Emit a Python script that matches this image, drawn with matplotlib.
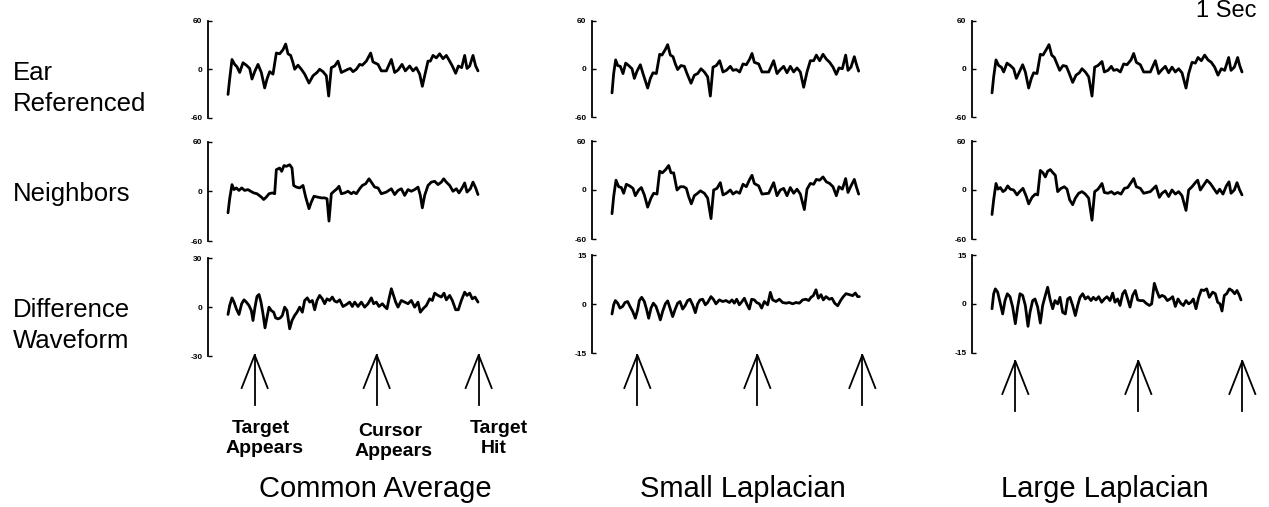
import matplotlib
matplotlib.use('Agg')
import matplotlib.pyplot as plt

plt.rcParams['font.family'] = ['Liberation Sans', 'DejaVu Sans']

W, H = 1269, 507
fig = plt.figure(figsize=(W / 100, H / 100), dpi=100)

# ---------------- data (time in ms, amplitude in microvolts) ----------------
column_titles = ['Common Average', 'Small Laplacian', 'Large Laplacian']
row_labels = [['Ear', 'Referenced'], ['Neighbors'], ['Difference', 'Waveform']]
event_labels = [['Target', 'Appears'], ['Cursor', 'Appears'], ['Target', 'Hit']]

events_ca = [320, 1784, 3008]
events_sl = [304, 1744, 3004]
events_ll = [280, 1756, 3004]

ylim_ear = [60, 60, 60]
ylim_nb = [60, 60, 60]
ylim_diff = [30, 15, 15]

ear_ca = [(0, -31), (20, -12), (48, 12), (80, 6), (108, 3), (140, -4), (180, 8), (220, 5), (260, 1), (288, -12),
          (320, -3), (360, 6), (400, -4), (440, -23), (468, -12), (500, -3), (540, -6), (580, 20), (620, 19), (660, 24),
          (692, 31), (720, 19), (752, 17), (780, 8), (800, 0), (840, 5), (880, 0), (920, -6), (972, -17), (1020, -8),
          (1068, -4), (1100, 0), (1140, -3), (1180, -8), (1208, -33), (1240, 2), (1280, 4), (1320, 10), (1360, -4),
          (1400, -2), (1440, 0), (1468, 1), (1500, -3), (1540, 0), (1580, 6), (1612, 5), (1660, 10), (1712, 20),
          (1740, 9), (1800, 6), (1840, -2), (1900, -2), (1960, 12), (2000, -4), (2040, -1), (2088, 6), (2128, -2),
          (2180, 4), (2220, -2), (2260, 2), (2300, -6), (2332, -21), (2360, -8), (2400, 10), (2428, 10), (2460, 17),
          (2500, 14), (2540, 19), (2580, 13), (2620, 17), (2660, 10), (2692, 4), (2732, -5), (2764, 4), (2804, 2),
          (2840, 17), (2868, 1), (2900, 4), (2940, 17), (2972, 4), (3000, -2)]

ear_sl = [(0, -30), (20, -6), (44, 11), (68, 4), (100, 3), (132, -6), (164, 7), (200, 4), (240, 0), (268, -12),
          (300, -3), (340, 5), (372, -6), (428, -24), (460, -12), (492, -5), (532, -6), (572, 18), (600, 17), (640, 24),
          (668, 30), (700, 17), (732, 15), (760, 6), (788, -1), (828, 4), (868, 3), (900, -6), (948, -18), (988, -8),
          (1028, -6), (1068, 0), (1108, -4), (1148, -10), (1180, -34), (1212, 2), (1252, 4), (1292, 10), (1332, -4),
          (1372, -2), (1420, 3), (1452, -2), (1492, -1), (1532, -4), (1572, 6), (1612, 5), (1652, 12), (1680, 19),
          (1708, 8), (1760, 6), (1800, -4), (1880, -4), (1940, 10), (1980, -6), (2020, -1), (2060, 3), (2100, -5),
          (2140, 3), (2180, -4), (2220, 1), (2260, -4), (2300, -23), (2340, -4), (2380, 10), (2420, 10), (2452, 17),
          (2492, 10), (2532, 18), (2572, 12), (2612, 8), (2652, 2), (2692, -7), (2724, 1), (2764, 0), (2804, 17),
          (2832, -2), (2868, 2), (2908, 15), (2932, 6), (2960, -3)]

ear_ll = [(0, -30), (20, -10), (48, 11), (80, 4), (112, 2), (140, -4), (180, 7), (220, 4), (260, 0), (292, -12),
          (328, -4), (368, 5), (400, -4), (440, -24), (472, -12), (500, -5), (540, -6), (580, 18), (612, 17), (652, 24),
          (684, 30), (716, 17), (748, 14), (780, 6), (812, -2), (852, 4), (892, 3), (920, -4), (968, -17), (1008, -8),
          (1048, -5), (1080, 0), (1120, -4), (1160, -10), (1200, -34), (1232, 2), (1272, 4), (1320, 9), (1348, -4),
          (1392, -2), (1432, 3), (1460, -2), (1500, -1), (1540, -4), (1580, 6), (1620, 5), (1668, 11), (1700, 19),
          (1732, 8), (1780, 5), (1820, -4), (1900, -4), (1960, 10), (2000, -6), (2040, -1), (2080, 3), (2120, -5),
          (2160, 2), (2200, -4), (2240, 0), (2280, -5), (2328, -24), (2360, -6), (2400, 8), (2440, 7), (2472, 14),
          (2512, 10), (2552, 17), (2592, 11), (2632, 8), (2672, 2), (2712, -8), (2752, 0), (2792, -2), (2840, 14),
          (2868, -2), (2908, 2), (2948, 14), (2972, 4), (3000, -4)]

nb_ca = [(0, -26), (20, -9), (48, 8), (72, 2), (100, 4), (132, 1), (164, 4), (200, 1), (240, 2), (272, 0),
         (308, -2), (348, -3), (400, -7), (428, -10), (460, -7), (492, -3), (532, -2), (560, -3), (580, 26), (620, 28),
         (644, 24), (672, 31), (700, 30), (740, 32), (768, 28), (788, 7), (820, 5), (860, 4), (900, 7), (932, -7),
         (972, -21), (1000, -13), (1032, -6), (1072, -7), (1120, -8), (1160, -8), (1188, -9), (1212, -36), (1240, -3),
         (1272, 0), (1308, 3), (1332, 6), (1360, -3), (1400, -2), (1440, 0), (1480, -3), (1508, -1), (1540, -3),
         (1580, 3), (1612, 7), (1652, 9), (1692, 15), (1720, 11), (1760, 5), (1800, 4), (1840, -3), (1900, -1),
         (1960, 3), (2000, -4), (2040, 1), (2080, 3), (2120, -5), (2160, 2), (2200, 0), (2240, 2), (2280, 5),
         (2308, -5), (2332, -20), (2360, -5), (2400, 7), (2440, 11), (2480, 12), (2520, 8), (2560, 11), (2588, 15),
         (2620, 11), (2660, 7), (2700, 0), (2740, 3), (2772, -2), (2804, 3), (2840, 10), (2868, -1), (2908, 3),
         (2940, 11), (2972, 4), (3000, -4)]

nb_sl = [(0, -29), (20, -8), (48, 12), (80, 4), (112, 3), (140, -4), (172, 7), (212, 5), (252, 2), (280, -7),
         (320, 0), (352, 3), (388, -6), (428, -21), (468, -10), (500, -4), (540, -5), (572, 23), (604, 21), (644, 25),
         (680, 30), (708, 21), (740, 21), (780, 0), (820, 4), (860, 4), (892, 2), (920, -8), (952, -17), (988, -7),
         (1028, -4), (1060, -1), (1108, -4), (1148, -10), (1188, -35), (1220, 0), (1260, 2), (1300, 9), (1332, -6),
         (1372, -4), (1420, 0), (1452, -5), (1492, -2), (1532, -4), (1572, 7), (1612, 4), (1652, 13), (1680, 18),
         (1708, 8), (1760, 5), (1800, -5), (1880, -4), (1940, 9), (1980, -7), (2020, 0), (2060, 2), (2100, -7),
         (2140, 3), (2180, -4), (2220, 1), (2260, -5), (2308, -24), (2340, 1), (2380, 8), (2420, 7), (2452, 13),
         (2492, 12), (2532, 16), (2572, 10), (2612, 8), (2652, 4), (2692, -7), (2724, 4), (2764, 1), (2804, 14),
         (2832, -3), (2868, 5), (2908, 13), (2932, 4), (2960, -5)]

nb_ll = [(0, -30), (20, -12), (48, 8), (72, 1), (100, 3), (132, -2), (160, 0), (188, 5), (220, 1), (260, 0),
         (300, -6), (332, -2), (372, 2), (412, -8), (440, -17), (480, -9), (520, -5), (548, -6), (580, 24), (612, 21),
         (640, 16), (668, 23), (700, 25), (732, 21), (760, 18), (788, -2), (828, 2), (868, 4), (900, 1), (932, -12),
         (968, -18), (1000, -10), (1040, -4), (1080, -2), (1120, -5), (1160, -10), (1200, -37), (1232, -2), (1272, 1),
         (1320, 8), (1348, -3), (1392, -4), (1432, -2), (1468, -5), (1508, -3), (1548, -5), (1588, 2), (1628, 3),
         (1668, 9), (1700, 14), (1732, 4), (1780, 2), (1820, -4), (1900, -2), (1968, 5), (2008, -9), (2040, -4),
         (2080, -1), (2120, -8), (2160, 0), (2200, -5), (2240, -2), (2280, -7), (2328, -25), (2360, 0), (2400, 4),
         (2440, 9), (2468, 12), (2500, 0), (2540, 6), (2580, 12), (2620, 8), (2660, 2), (2700, -4), (2732, 1),
         (2772, -5), (2812, 5), (2844, 10), (2868, -4), (2908, 0), (2940, 9), (2972, 0), (3000, -6)]

diff_ca = [(0, -4.5), (20, 1.0), (48, 5.7), (72, 3.1), (100, -1.0), (132, -4.5), (164, 2.1), (192, 4.5), (220, 3.1),
           (252, 1.0), (280, -2.1), (300, -8.2), (324, 0.0), (348, 6.6), (372, 7.8), (396, 3.1), (420, -4.1),
           (444, -12.7), (468, -6.2), (492, 0.0), (520, -2.1), (548, -3.1), (572, -6.6), (600, -7.2), (628, -6.6),
           (652, -5.1), (680, 0.0), (708, -2.1), (740, -13.3), (768, -8.2), (800, -5.1), (828, -3.1), (860, 0.0),
           (892, -3.1), (920, 4.1), (952, 5.7), (980, 3.1), (1012, 4.1), (1040, -1.6), (1068, 4.1), (1100, 7.2),
           (1132, 5.1), (1160, 2.1), (1188, 5.1), (1220, 4.1), (1252, 6.2), (1280, 3.7), (1308, 3.1), (1340, 4.5),
           (1380, 0.4), (1420, 1.6), (1460, 3.1), (1492, 0.4), (1520, 3.1), (1560, 0.4), (1600, 3.1), (1640, 0.0),
           (1680, 2.1), (1720, 5.7), (1748, 2.1), (1780, 3.1), (1812, 0.4), (1852, 2.1), (1880, 0.4), (1908, -1.0),
           (1932, 5.1), (1960, 11.3), (1980, 8.2), (2012, 3.1), (2040, 0.0), (2080, 4.1), (2120, 3.1), (2160, 2.1),
           (2200, 4.1), (2240, 0.0), (2280, 3.1), (2308, -3.1), (2340, -1.0), (2380, 1.0), (2420, 5.1), (2452, 4.1),
           (2480, 8.6), (2520, 7.2), (2560, 6.2), (2592, 8.6), (2620, 4.5), (2660, 7.2), (2692, 4.1), (2732, -1.6),
           (2764, -1.6), (2800, 4.1), (2840, 9.2), (2868, 7.2), (2900, 8.6), (2932, 5.1), (2964, 6.2), (3000, 3.1)]

diff_sl = [(0, -3.0), (20, -0.2), (40, 1.1), (68, 0.3), (96, -1.2), (128, -0.7), (156, 0.5), (188, 0.8), (216, -0.7),
           (248, -2.2), (280, -4.3), (308, -1.7), (328, 1.1), (356, 2.1), (388, 0.8), (416, -1.7), (440, -4.3),
           (468, -1.2), (496, 0.3), (528, -0.7), (556, -2.8), (580, -4.8), (608, -2.2), (640, 0.1), (668, 1.0),
           (696, -1.2), (728, -3.8), (756, -1.7), (788, 0.3), (816, 0.8), (848, -1.5), (876, -0.5), (908, 1.1),
           (936, 1.5), (968, -0.2), (1000, -2.6), (1028, 0.1), (1056, 1.3), (1088, 1.5), (1120, -0.2), (1148, 0.5),
           (1188, 2.3), (1216, 1.5), (1248, 0.1), (1288, 1.3), (1328, 0.8), (1368, 1.1), (1408, 0.5), (1440, 1.3),
           (1468, 0.3), (1496, 1.5), (1528, -0.2), (1560, 0.8), (1588, 1.8), (1616, 0.1), (1648, -1.5), (1676, 1.5),
           (1708, 1.3), (1736, 0.5), (1768, 0.1), (1796, -1.2), (1828, 0.8), (1868, -0.2), (1900, 3.6), (1928, 1.3),
           (1968, 0.8), (2008, 1.5), (2048, 0.5), (2088, 0.3), (2128, 0.5), (2168, 0.1), (2208, 0.5), (2248, 0.3),
           (2288, 1.3), (2328, 1.5), (2360, 1.1), (2388, 2.1), (2416, 2.6), (2448, 4.4), (2476, 1.8), (2508, 2.9),
           (2536, 1.3), (2568, 2.3), (2608, 1.5), (2640, 1.8), (2672, 0.3), (2708, -0.5), (2748, 1.3), (2776, 2.3),
           (2808, 3.2), (2848, 2.9), (2888, 2.6), (2920, 3.4), (2948, 2.3), (2968, 2.3)]

diff_ll = [(0, -1.5), (20, 3.1), (40, 4.6), (68, 3.6), (96, 0.5), (128, -3.1), (156, 1.0), (184, 3.1), (216, 2.2),
           (248, -1.0), (280, -6.1), (308, -1.0), (336, 3.1), (368, 2.6), (400, -0.5), (432, -6.9), (456, -2.6),
           (488, 1.0), (516, 1.5), (548, -1.0), (580, -5.9), (608, -0.5), (640, 2.6), (668, 5.1), (696, 1.5),
           (728, -1.5), (756, 1.0), (788, 0.0), (816, 2.0), (848, -2.6), (880, -3.1), (908, 1.5), (936, 2.0),
           (968, -0.5), (1000, -3.6), (1028, -0.5), (1056, 2.0), (1088, 3.1), (1120, 1.5), (1152, 2.2), (1188, 1.0),
           (1216, 2.0), (1248, 1.2), (1280, 2.2), (1316, 0.5), (1348, 1.5), (1380, 2.2), (1416, 1.0), (1448, 3.3),
           (1476, 0.5), (1508, 1.5), (1536, -0.5), (1568, 3.1), (1596, 4.1), (1628, 1.5), (1656, -1.0), (1688, 2.6),
           (1720, 4.1), (1748, 1.2), (1780, 1.0), (1816, 1.0), (1848, 0.2), (1888, -0.5), (1916, 0.0), (1948, 6.3),
           (1976, 4.1), (2008, 2.0), (2040, 2.6), (2072, 2.2), (2104, 1.0), (2136, 1.5), (2168, 2.2), (2200, -0.8),
           (2232, 1.5), (2264, 0.2), (2296, -0.5), (2328, 1.0), (2360, 0.0), (2388, 0.5), (2416, 1.5), (2448, -1.5),
           (2480, 2.0), (2512, 4.3), (2544, 4.1), (2576, 4.6), (2608, 2.0), (2648, 3.6), (2680, 3.1), (2708, 0.5),
           (2736, 0.0), (2760, -2.2), (2788, 2.6), (2816, 3.1), (2848, 4.6), (2880, 4.1), (2912, 3.1), (2940, 4.1),
           (2968, 2.6), (2988, 1.2)]

# ---------------- layout (pixels) ----------------
MS_PER_PX = 12.0
XMIN, XMAX = -240, 3100
col_spine_x = [208, 592, 972]
row_extent = [[(20.5, 118), (20.5, 117), (20.5, 117)],
              [(141.5, 241), (141, 239), (141, 239)],
              [(258.3, 356), (255, 353.3), (255, 352.7)]]
arrow_tip_y = [355, 355, 361]


def px_axes(left, top, right, bottom):
    return fig.add_axes([left / W, 1 - bottom / H, (right - left) / W, (bottom - top) / H])


overlay = fig.add_axes([0, 0, 1, 1])
overlay.set_xlim(0, W)
overlay.set_ylim(H, 0)
overlay.axis('off')

panels = [[ear_ca, ear_sl, ear_ll], [nb_ca, nb_sl, nb_ll], [diff_ca, diff_sl, diff_ll]]
limits = [ylim_ear, ylim_nb, ylim_diff]
events = [events_ca, events_sl, events_ll]

bottom_axes = []
for r in range(3):
    for c in range(3):
        top, bot = row_extent[r][c]
        left = col_spine_x[c]
        right = left + (XMAX - XMIN) / MS_PER_PX
        ax = px_axes(left, top, right, bot)
        lim = limits[r][c]
        t = [p[0] for p in panels[r][c]]
        v = [p[1] for p in panels[r][c]]
        ax.plot(t, v, color='black', lw=2.0, solid_joinstyle='round', solid_capstyle='round')
        ax.set_xlim(XMIN, XMAX)
        ax.set_ylim(-lim, lim)
        for s in ['top', 'right', 'bottom']:
            ax.spines[s].set_visible(False)
        ax.spines['left'].set_linewidth(1.3)
        ax.set_xticks([])
        ax.set_yticks([-lim, 0, lim])
        ax.set_yticklabels([str(-lim), '0', str(lim)])
        ax.tick_params(axis='y', direction='in', length=3, width=1, labelsize=6, pad=4)
        for lab in ax.get_yticklabels():
            lab.set_fontweight('bold')
        ax.patch.set_visible(False)
        if r == 2:
            bottom_axes.append(ax)

# arrows marking events
for c in range(3):
    ax = bottom_axes[c]
    tip = arrow_tip_y[c]
    for te in events[c]:
        x = ax.transData.transform((te, 0))[0]
        overlay.plot([x, x], [tip, tip + 50], color='black', lw=1.3)
        overlay.plot([x - 13, x, x + 13], [tip + 33, tip, tip + 33], color='black', lw=1.3)

# event labels (first column)
ev_x = [[261, 265], [390, 394], [499, 494]]
ev_y = [433, 453]
for i, lines in enumerate(event_labels):
    for j, s in enumerate(lines):
        overlay.text(ev_x[i][j], ev_y[j] + (3 if i == 1 else 0), s, ha='center', va='baseline',
                     fontsize=14, fontweight='bold')

# column titles
title_x = [375, 743, 1105]
for x, s in zip(title_x, column_titles):
    overlay.text(x, 497, s, ha='center', va='baseline', fontsize=21)

# row labels
row_base = [[80, 111], [201], [317, 348]]
for lines, bases in zip(row_labels, row_base):
    for s, b in zip(lines, bases):
        overlay.text(13, b, s, ha='left', va='baseline', fontsize=18.5)

overlay.text(1256, 17, '1 Sec', ha='right', va='baseline', fontsize=17)

fig.savefig('out.png', dpi=100)
